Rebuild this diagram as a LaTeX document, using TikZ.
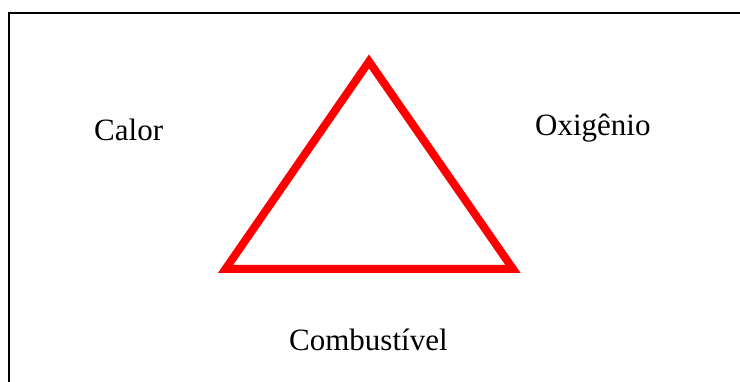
\documentclass[tikz,border=0pt]{standalone}
\usepackage{fontspec}
\setmainfont{Liberation Serif}
\begin{document}
\begin{tikzpicture}[x=1pt,y=-1pt,
  lbl/.style={anchor=base west,inner sep=0pt,font=\fontsize{31}{37}\selectfont},
  frame/.style={line width=2pt,black},
  tri/.style={line width=8pt,red,line join=miter}]
\useasboundingbox (0,0) rectangle (740,382);
\fill[white] (0,0) rectangle (740,382);
\coordinate (ftr) at (741,13.5);
\coordinate (ftl) at (8.5,13.5);
\coordinate (fbl) at (8.5,383);
\draw[frame] (ftr) -- (ftl) -- (fbl);
\coordinate (apex) at (369,61.5);
\coordinate (bl) at (225.5,269);
\coordinate (br) at (513,269);
\draw[tri] (apex) -- (br) -- (bl) -- cycle;
\node[lbl] (calor) at (94,141) {Calor};
\node[lbl] (oxi) at (535,136) {Oxigênio};
\node[lbl] (comb) at (289,351) {Combustível};
\end{tikzpicture}
\end{document}
